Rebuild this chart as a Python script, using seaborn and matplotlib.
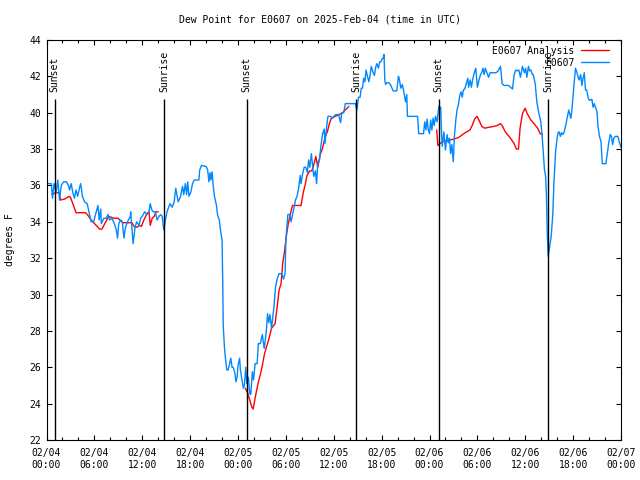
import pandas as pd
import matplotlib
matplotlib.use("Agg")
from matplotlib import pyplot as plt
from matplotlib.lines import Line2D
import seaborn as sns

# Station observations (hours since 02/04 00:00 UTC, deg F)
obs_hours = [0.0, 0.3, 0.6, 0.75, 0.95, 1.2, 1.42, 1.63, 1.85, 2.14, 2.5, 2.76, 2.89, 3.1, 3.3, 3.5, 3.7, 3.9,
             4.27, 4.4, 4.5, 4.77, 5.1, 5.4, 5.6, 5.9, 6.2, 6.45, 6.6, 6.8, 6.87, 7.2, 7.5, 7.7, 7.9, 8.2, 8.5,
             8.75, 8.9, 9.05, 9.3, 9.5, 9.7, 9.9, 10.15, 10.5, 10.55, 10.7, 10.85, 11.1, 11.3, 11.6, 11.8, 12.0,
             12.3, 12.6, 12.85, 13.0, 13.2, 13.4, 13.65, 13.86, 14.1, 14.3, 14.5, 14.7, 14.9, 15.1, 15.35, 15.5,
             15.75, 16.0, 16.2, 16.3, 16.5, 16.6, 16.8, 17.05, 17.2, 17.4, 17.55, 17.7, 17.85, 18.1, 18.3, 18.5,
             19.1, 19.2, 19.43, 20.0, 20.2, 20.35, 20.5, 20.6, 20.75, 20.9, 21.05, 21.3, 21.45, 21.65, 21.8, 22.0,
             22.08, 22.15, 22.3, 22.45, 22.6, 22.75, 22.9, 23.1, 23.25, 23.4, 23.6, 23.75, 23.9, 24.0, 24.2, 24.3,
             24.5, 24.67, 24.8, 24.97, 25.1, 25.3, 25.47, 25.6, 25.8, 25.95, 26.14, 26.4, 26.55, 26.8, 27.05, 27.2,
             27.3, 27.56, 27.7, 27.85, 28.0, 28.2, 28.5, 28.7, 28.9, 29.15, 29.5, 29.7, 29.9, 30.0, 30.16, 30.25,
             30.5, 30.65, 30.8, 31.0, 31.2, 31.4, 31.6, 31.8, 31.9, 32.1, 32.3, 32.5, 32.7, 32.85, 33.0, 33.2,
             33.4, 33.5, 33.7, 33.85, 34.0, 34.2, 34.4, 34.6, 34.8, 34.9, 35.1, 35.27, 35.6, 35.85, 36.1, 36.35,
             36.6, 36.86, 37.0, 37.25, 37.45, 38.7, 38.9, 39.1, 39.3, 39.45, 39.6, 39.75, 39.9, 40.05, 40.2, 40.4,
             40.55, 40.7, 40.9, 41.1, 41.25, 41.4, 41.6, 41.75, 41.9, 42.05, 42.2, 42.3, 42.4, 42.5, 42.65, 42.9,
             43.1, 43.3, 43.45, 43.9, 44.1, 44.2, 44.4, 44.6, 44.8, 45.0, 45.15, 45.24, 46.5, 46.65, 47.25, 47.4,
             47.55, 47.7, 47.85, 48.0, 48.15, 48.3, 48.45, 48.6, 48.75, 48.95, 49.17, 49.4, 49.5, 49.6, 49.8, 50.0,
             50.2, 50.35, 50.5, 50.64, 50.8, 50.98, 51.1, 51.3, 51.45, 51.6, 51.8, 51.95, 52.1, 52.25, 52.4, 52.55,
             52.8, 52.9, 53.1, 53.25, 53.4, 53.55, 53.8, 53.9, 54.0, 54.2, 54.4, 54.55, 54.7, 54.85, 55.0, 55.2,
             55.4, 55.6, 55.85, 56.1, 56.35, 56.6, 56.9, 57.1, 57.35, 57.9, 58.15, 58.4, 58.6, 58.8, 59.0, 59.2,
             59.4, 59.65, 59.9, 60.05, 60.2, 60.4, 60.55, 60.7, 60.9, 61.0, 61.25, 61.45, 61.7, 61.95, 62.1, 62.25,
             62.4, 62.55, 62.65, 62.75, 62.87, 62.98, 63.1, 63.25, 63.45, 63.6, 63.8, 63.95, 64.1, 64.25, 64.4,
             64.55, 64.7, 64.85, 65.0, 65.3, 65.45, 65.6, 65.7, 65.85, 66.1, 66.3, 66.45, 66.6, 66.75, 66.95, 67.1,
             67.25, 67.4, 67.55, 67.7, 67.9, 68.0, 68.2, 68.35, 68.5, 68.65, 69.0, 69.1, 69.3, 69.5, 69.65, 70.1,
             70.3, 70.45, 70.65, 70.8, 70.95, 71.1, 71.3, 71.6, 71.75, 71.9, 72.0]
obs_dew = [36.15, 36.1, 36.1, 35.3, 36.1, 35.6, 36.3, 35.2, 36.0, 36.2, 36.2, 36.0, 35.75, 36.1, 35.6, 35.3, 35.75, 35.4,
           36.1, 35.75, 35.4, 35.1, 35.0, 34.4, 34.0, 34.0, 34.5, 34.9, 34.1, 34.7, 33.9, 34.2, 34.2, 34.4, 34.1, 34.2, 33.9,
           33.55, 33.1, 33.9, 34.1, 34.0, 33.1, 33.7, 34.0, 34.3, 34.55, 33.7, 32.8, 33.7, 34.0, 33.8, 34.2, 34.3,
           34.55, 34.4, 34.55, 35.0, 34.65, 34.55, 34.55, 34.1, 34.3, 34.4, 34.3, 33.55, 34.1, 34.55, 34.85, 35.0,
           34.8, 35.1, 35.85, 35.6, 35.1, 35.2, 35.4, 35.95, 35.5, 36.1, 35.5, 36.2, 35.4, 35.65, 36.1, 36.3,
           36.3, 36.85, 37.1, 37.05, 36.85, 36.2, 36.7, 36.3, 36.75, 35.95, 35.4, 34.9, 34.35, 34.1, 33.55, 33.0,
           30.9, 28.3, 27.1, 26.4, 25.85, 25.85, 26.1, 26.5, 26.0, 26.0, 25.7, 25.2, 25.5, 26.1, 26.5, 25.85,
           25.3, 24.85, 25.0, 26.0, 25.1, 25.45, 24.55, 24.5, 25.75, 25.3, 26.2, 26.2, 27.3, 27.3, 27.8, 27.3,
           27.05, 28.05, 28.95, 28.45, 28.9, 28.15, 29.3, 30.4, 30.85, 31.15, 31.15, 30.85, 31.15, 33.0, 33.9, 34.4,
           34.4, 34.0, 34.3, 34.75, 35.2, 35.4, 35.85, 36.55, 36.1, 36.65, 37.0, 37.0, 36.7, 37.4, 37.0, 37.75,
           36.85, 36.5, 36.8, 36.1, 37.3, 37.35, 38.2, 38.85, 39.1, 38.3, 39.2, 39.8, 39.8, 39.7, 39.85, 39.9,
           39.9, 39.45, 40.0, 40.0, 40.5, 40.5, 40.15, 40.85, 40.85, 41.35, 41.35, 41.9, 41.7, 42.35, 42.05, 41.7,
           42.05, 42.55, 42.25, 42.05, 42.5, 42.7, 42.45, 42.8, 42.8, 42.95, 43.0, 43.2, 41.8, 41.55, 41.65, 41.65,
           41.55, 41.35, 41.2, 41.2, 42.0, 41.9, 41.35, 41.55, 41.1, 40.6, 41.0, 39.8, 39.8, 38.85, 38.85, 39.5,
           39.05, 39.65, 39.05, 38.85, 39.6, 39.05, 39.7, 39.3, 39.8, 39.5, 40.35, 40.3, 38.95, 38.15, 38.95, 37.95,
           38.8, 38.35, 38.6, 37.75, 38.25, 37.3, 38.6, 39.6, 40.15, 40.4, 40.95, 41.15, 40.85, 41.25, 41.3, 41.5,
           41.9, 41.4, 41.8, 41.4, 41.8, 42.1, 42.45, 41.9, 41.4, 41.8, 42.1, 42.2, 42.45, 42.1, 42.45, 42.2,
           41.95, 42.2, 42.2, 42.2, 42.2, 42.3, 42.55, 41.6, 41.5, 41.5, 41.4, 41.3, 42.05, 42.35, 42.3, 42.35,
           41.95, 42.55, 42.2, 42.45, 41.95, 42.55, 42.3, 42.35, 42.1, 42.1, 41.6, 40.6, 40.0, 39.5, 38.8, 37.9,
           36.9, 36.5, 35.5, 33.5, 32.1, 32.4, 32.75, 33.2, 34.4, 36.2, 37.85, 38.45, 38.9, 38.95, 38.7,
           38.9, 38.8, 38.9, 39.15, 39.8, 40.15, 39.9, 39.7, 40.15, 41.5, 42.45, 42.25, 42.0, 41.8, 42.1, 41.5,
           41.9, 42.2, 41.25, 41.25, 40.8, 40.7, 40.7, 40.75, 40.3, 40.5, 40.05, 39.3, 38.7, 38.4, 37.2, 37.2,
           37.8, 38.3, 38.8, 38.7, 38.25, 38.6, 38.7, 38.7, 38.45, 38.25, 38.1]

# Analysis (three separate pieces)
ana_hours_1 = [0.67, 1.2, 1.6, 1.75, 2.27, 2.8, 3.0, 3.3, 3.7, 4.9, 5.2, 5.6, 6.66, 6.95, 7.3, 7.8, 8.45, 8.95,
               9.3, 9.6, 10.72, 10.97, 11.3, 11.7, 11.9, 12.2, 12.6, 12.85, 13.0, 13.25, 13.5, 13.7, 14.0]
ana_dew_1 = [35.5, 35.6, 35.6, 35.2, 35.25, 35.4, 35.35, 35.0, 34.5, 34.5, 34.35, 34.1, 33.6, 33.6, 33.9, 34.3, 34.2, 34.2,
             34.05, 33.95, 33.95, 33.75, 33.7, 33.8, 33.75, 34.1, 34.45, 34.55, 33.8, 34.2, 34.3, 34.55, 34.55]
ana_hours_2 = [24.9, 25.2, 25.47, 25.7, 25.9, 26.1, 26.3, 26.56, 26.8, 27.05, 27.3, 27.56, 27.9, 28.2, 28.65, 28.9,
               29.15, 29.4, 29.6, 29.82, 30.07, 30.3, 30.58, 30.82, 31.9, 32.2, 32.4, 32.65, 33.0, 33.25, 33.5, 33.75,
               34.0, 34.3, 34.6, 34.93, 35.2, 35.45, 35.7, 36.2, 36.7, 37.1, 37.45, 37.9]
ana_dew_2 = [24.85, 24.6, 24.2, 23.85, 23.7, 24.2, 24.65, 25.2, 25.6, 26.1, 26.7, 27.1, 27.6, 28.15, 28.4, 29.3,
             30.25, 30.6, 31.7, 32.35, 33.25, 33.9, 34.45, 34.9, 34.9, 35.65, 36.0, 36.55, 36.8, 36.8, 37.15, 37.6,
             37.0, 37.7, 38.05, 38.7, 38.95, 39.4, 39.7, 39.8, 39.9, 40.0, 40.15, 40.35]
ana_hours_3 = [48.9, 49.05, 49.3, 49.6, 50.0, 51.05, 51.7, 52.3, 53.07, 53.35, 53.65, 53.95, 54.25, 54.55, 54.9,
               55.45, 56.1, 56.5, 56.9, 57.1, 57.5, 58.15, 58.6, 58.9, 59.15, 59.35, 59.65, 59.98, 60.25, 60.7,
               61.1, 61.55, 61.87, 62.15]
ana_dew_3 = [39.05, 38.2, 38.3, 38.4, 38.45, 38.55, 38.65, 38.85, 39.05, 39.3, 39.65, 39.8, 39.55, 39.25, 39.15,
             39.2, 39.25, 39.3, 39.4, 39.3, 38.95, 38.6, 38.3, 38.0, 38.0, 39.15, 39.95, 40.25, 39.95, 39.6,
             39.4, 39.15, 38.85, 38.8]

event_hours = [1.04, 14.75, 25.09, 38.79, 49.17, 62.87]
event_names = ["Sunset", "Sunrise", "Sunset", "Sunrise", "Sunset", "Sunrise"]

tick_hours = list(range(0, 73, 6))
tick_labels = ["02/04\n00:00", "02/04\n06:00", "02/04\n12:00", "02/04\n18:00",
               "02/05\n00:00", "02/05\n06:00", "02/05\n12:00", "02/05\n18:00",
               "02/06\n00:00", "02/06\n06:00", "02/06\n12:00", "02/06\n18:00",
               "02/07\n00:00"]

obs = pd.DataFrame({"hour": obs_hours, "dew": obs_dew})
ana = pd.concat([
    pd.DataFrame({"hour": ana_hours_1, "dew": ana_dew_1, "piece": 1}),
    pd.DataFrame({"hour": ana_hours_2, "dew": ana_dew_2, "piece": 2}),
    pd.DataFrame({"hour": ana_hours_3, "dew": ana_dew_3, "piece": 3}),
])

sns.set_style("ticks")
plt.rcParams["font.family"] = ["DejaVu Sans Mono"]
plt.rcParams["font.size"] = 7
plt.rcParams["text.color"] = "black"
plt.rcParams["axes.labelcolor"] = "black"
plt.rcParams["xtick.color"] = "black"
plt.rcParams["ytick.color"] = "black"

fig = plt.figure(figsize=(6.4, 4.8), dpi=100)
ax = fig.add_axes([46.5 / 640, 40 / 480, 574.5 / 640, 400 / 480])

red = "#ff0000"
blue = "#0088ff"

sns.lineplot(data=ana, x="hour", y="dew", units="piece", estimator=None, sort=False,
             color=red, linewidth=1.0, ax=ax)
sns.lineplot(data=obs, x="hour", y="dew", estimator=None, sort=False,
             color=blue, linewidth=1.0, ax=ax)

# sunrise / sunset markers
ax.vlines(event_hours, 22, 40.75, color="black", linewidth=1.0)
for h, name in zip(event_hours, event_names):
    ax.text(h, 41.15, name, rotation=90, ha="center", va="bottom", fontsize=7, color="black")

ax.set_xlim(0, 72)
ax.set_ylim(22, 44)
ax.set_xticks(tick_hours)
ax.set_xticklabels(tick_labels)
ax.set_xticks(range(0, 73, 2), minor=True)
ax.set_yticks(range(22, 45, 2))
ax.tick_params(which="both", direction="in", top=True, right=True, colors="black", labelsize=7)
ax.tick_params(which="major", length=3.3, width=0.8)
ax.tick_params(which="minor", length=2.0, width=0.8)
ax.tick_params(axis="x", pad=6)
ax.tick_params(axis="y", pad=4)
for s in ax.spines.values():
    s.set_color("black")
    s.set_linewidth(0.8)
ax.set_xlabel("")
ax.set_ylabel("")

handles = [Line2D([], [], color=red, linewidth=1.0), Line2D([], [], color=blue, linewidth=1.0)]
leg = ax.legend(handles, ["E0607 Analysis", "E0607"], loc="upper right", bbox_to_anchor=(1 - 6 / 574.5, 1),
                markerfirst=False, frameon=False, handlelength=2.9, handletextpad=0.7,
                labelspacing=0.2, borderaxespad=0.2, fontsize=7)
for t in leg.get_texts():
    t.set_color("black")

fig.text(0.5, 1 - 20 / 480, "Dew Point for E0607 on 2025-Feb-04 (time in UTC)", ha="center", va="center",
         fontsize=7, color="black")
fig.text(10 / 640, 0.5, "degrees F", rotation=90, ha="center", va="center", fontsize=7, color="black")

fig.savefig("out.png", dpi=100)
